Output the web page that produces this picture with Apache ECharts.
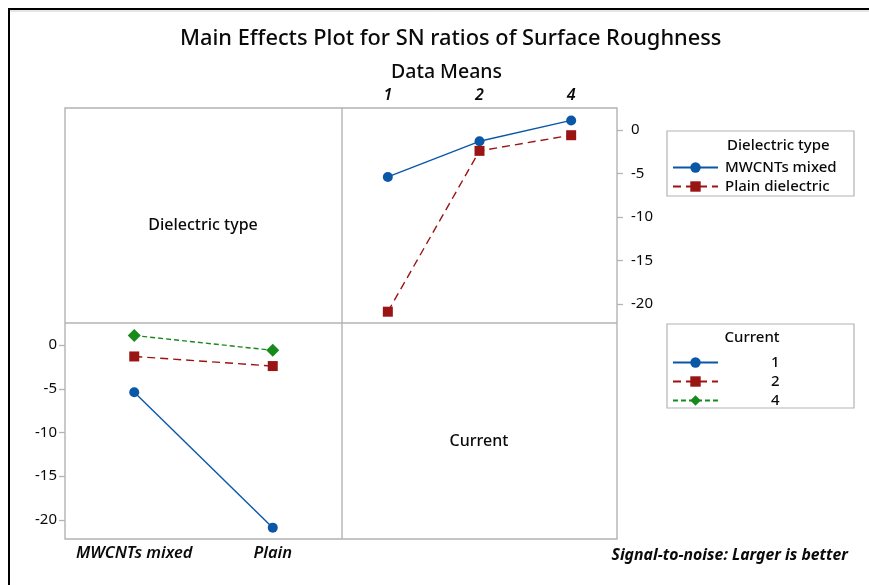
<!DOCTYPE html>
<html>
<head>
<meta charset="utf-8">
<script src="https://cdn.jsdelivr.net/npm/echarts@6/dist/echarts.min.js"></script>
<style>
  html, body { margin: 0; padding: 0; background: #fff; }
  #main { width: 869px; height: 585px; }
</style>
</head>
<body>
<div id="main"></div>
<script>
// levels of the two factors
let currentLevels = ['1', '2', '4'];
let dielectricNames = ['MWCNTs mixed', 'Plain dielectric'];
let dielectricTicks = ['MWCNTs mixed', 'Plain'];

// SN ratio means, indexed by current level
let snMWCNTs = [-5.4, -1.3, 1.1];
let snPlain = [-20.9, -2.4, -0.6];

let yTicks = [-20, -15, -10, -5, 0];

let FONT = '"Noto Sans", "Open Sans", sans-serif';
let BORDER = '#b3b3b3';
let TEXT = '#0a0a0a';
let BLUE = '#0a57a8', RED = '#9b1414', GREEN = '#18891b';

let seriesStyle = [
  {color: BLUE, symbol: 'circle', size: 10, dash: 'solid'},
  {color: RED, symbol: 'rect', size: 10, dash: [8, 5]},
  {color: GREEN, symbol: 'diamond', size: 13, dash: [5, 3]}
];

function lineSeries(name, data, st, xi, yi){
  return {
    name: name,
    type: 'line',
    xAxisIndex: xi,
    yAxisIndex: yi,
    data: data,
    symbol: st.symbol,
    symbolSize: st.size,
    itemStyle: {color: st.color},
    lineStyle: {color: st.color, width: 1.4, type: st.dash},
    emphasis: {disabled: true},
    animation: false
  };
}

let yBase = {
  type: 'value',
  min: -22.2,
  max: 2.53,
  splitLine: {show: false},
  axisLine: {show: false},
  axisTick: {show: true, length: 6, lineStyle: {color: BORDER, width: 1.3}, customValues: yTicks},
  axisLabel: {fontFamily: FONT, fontSize: 15, color: TEXT, customValues: yTicks}
};

let topSeries = [
  lineSeries(dielectricNames[0], snMWCNTs, seriesStyle[0], 0, 0),
  lineSeries(dielectricNames[1], snPlain, seriesStyle[1], 0, 0)
];
let bottomSeries = currentLevels.map(function(c, i){
  return lineSeries(c, [snMWCNTs[i], snPlain[i]], seriesStyle[i], 1, 1);
});

let option = {
  backgroundColor: '#fff',
  animation: false,
  title: [
    {text: 'Main Effects Plot for SN ratios of Surface Roughness', left: 175, top: 23,
      textStyle: {fontFamily: FONT, fontSize: 21.8, fontWeight: 500, color: TEXT}},
    {text: 'Data Means', left: 386, top: 57,
      textStyle: {fontFamily: FONT, fontSize: 19.5, fontWeight: 500, color: TEXT}}
  ],
  grid: [
    {left: 342, top: 108, width: 275, height: 215},
    {left: 65, top: 323, width: 277, height: 216}
  ],
  xAxis: [
    {gridIndex: 0, type: 'category', position: 'top', data: currentLevels, boundaryGap: true,
      axisLine: {show: false},
      axisTick: {alignWithLabel: true, length: 10, lineStyle: {color: BORDER, width: 1.3}},
      axisLabel: {interval: 0, fontFamily: FONT, fontSize: 16, fontStyle: 'italic', fontWeight: 600, color: TEXT, margin: 5}},
    {gridIndex: 1, type: 'category', position: 'bottom', data: dielectricTicks, boundaryGap: true,
      axisLine: {show: false},
      axisTick: {alignWithLabel: true, length: 7, lineStyle: {color: BORDER, width: 1.3}},
      axisLabel: {interval: 0, hideOverlap: false, fontFamily: FONT, fontSize: 16.5, fontStyle: 'italic', fontWeight: 600, color: TEXT, margin: 6}}
  ],
  yAxis: [
    Object.assign({}, yBase, {gridIndex: 0, position: 'right',
      axisLabel: Object.assign({}, yBase.axisLabel, {margin: 14})}),
    Object.assign({}, yBase, {gridIndex: 1, position: 'left',
      axisLabel: Object.assign({}, yBase.axisLabel, {margin: 8})})
  ],
  legend: [
    {data: dielectricNames, orient: 'vertical', left: 667, top: 155, itemWidth: 45, itemHeight: 13,
      itemGap: 4, selectedMode: false,
      textStyle: {fontFamily: FONT, fontSize: 15, fontWeight: 500, color: TEXT, padding: [0, 0, 0, 2]}},
    {data: currentLevels, orient: 'vertical', left: 667, top: 350, itemWidth: 45, itemHeight: 13,
      itemGap: 4, selectedMode: false,
      textStyle: {fontFamily: FONT, fontSize: 15, fontWeight: 500, color: TEXT, padding: [0, 0, 0, 48]}}
  ],
  series: topSeries.concat(bottomSeries),
  graphic: [
    // outer frame
    {type: 'polyline', shape: {points: [[9, 585], [9, 9], [869, 9]]}, style: {stroke: '#000', lineWidth: 2, fill: null}},
    {type: 'line', shape: {x1: 10, y1: 11, x2: 869, y2: 11}, style: {stroke: '#ccc', lineWidth: 1}},
    // panel matrix
    {type: 'rect', shape: {x: 65, y: 108, width: 552, height: 431}, style: {stroke: BORDER, lineWidth: 1.4, fill: null}},
    {type: 'line', shape: {x1: 342, y1: 108, x2: 342, y2: 539}, style: {stroke: BORDER, lineWidth: 1.4}},
    {type: 'line', shape: {x1: 65, y1: 323, x2: 617, y2: 323}, style: {stroke: BORDER, lineWidth: 1.4}},
    // diagonal labels
    {type: 'text', x: 203, y: 225, style: {text: 'Dielectric type', font: '500 16px ' + FONT, fill: TEXT, align: 'center', verticalAlign: 'middle'}},
    {type: 'text', x: 479, y: 441, style: {text: 'Current', font: '500 16px ' + FONT, fill: TEXT, align: 'center', verticalAlign: 'middle'}},
    // legend boxes
    {type: 'rect', shape: {x: 667, y: 131, width: 187, height: 65}, style: {stroke: BORDER, lineWidth: 1.2, fill: null}},
    {type: 'text', x: 727, y: 146, style: {text: 'Dielectric type', font: '500 15px ' + FONT, fill: TEXT, verticalAlign: 'middle'}},
    {type: 'rect', shape: {x: 667, y: 324, width: 187, height: 84}, style: {stroke: BORDER, lineWidth: 1.2, fill: null}},
    {type: 'text', x: 752, y: 338, style: {text: 'Current', font: '500 15px ' + FONT, fill: TEXT, align: 'center', verticalAlign: 'middle'}},
    // footer
    {type: 'text', x: 848, y: 555, style: {text: 'Signal-to-noise: Larger is better', font: 'italic bold 15.8px ' + FONT, fill: TEXT, align: 'right', verticalAlign: 'middle'}}
  ]
};

let chart = echarts.init(document.getElementById('main'), null, {renderer: 'canvas'});
chart.setOption(option);
</script>
</body>
</html>
